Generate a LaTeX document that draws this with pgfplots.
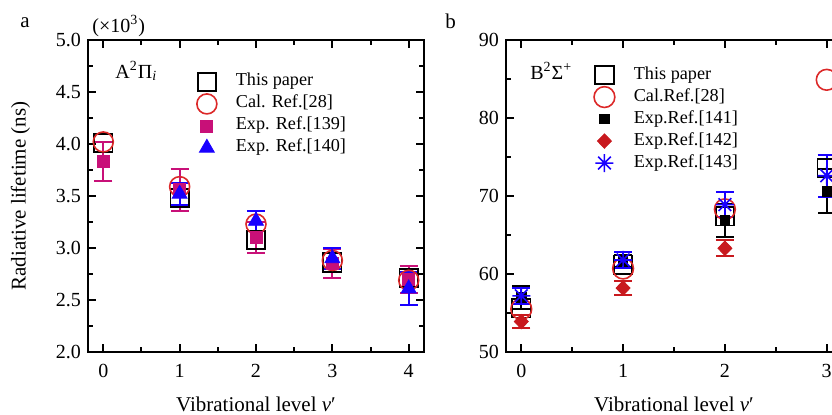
\documentclass[border=0pt]{standalone}
\usepackage{pgfplots}
\pgfplotsset{compat=1.18}
\usepackage{fontspec}
\setmainfont{Liberation Serif}

\definecolor{exppink}{RGB}{200,16,120}
\definecolor{calred}{RGB}{220,40,40}
\definecolor{expblue}{RGB}{25,0,255}
\definecolor{expred}{RGB}{200,25,30}

% eight-armed asterisk, as in the original
\pgfdeclareplotmark{ast8}{%
  \pgfpathmoveto{\pgfqpoint{0pt}{\pgfplotmarksize}}\pgfpathlineto{\pgfqpoint{0pt}{-\pgfplotmarksize}}%
  \pgfpathmoveto{\pgfqpoint{\pgfplotmarksize}{0pt}}\pgfpathlineto{\pgfqpoint{-\pgfplotmarksize}{0pt}}%
  \pgfpathmoveto{\pgfqpoint{0.707\pgfplotmarksize}{0.707\pgfplotmarksize}}\pgfpathlineto{\pgfqpoint{-0.707\pgfplotmarksize}{-0.707\pgfplotmarksize}}%
  \pgfpathmoveto{\pgfqpoint{-0.707\pgfplotmarksize}{0.707\pgfplotmarksize}}\pgfpathlineto{\pgfqpoint{0.707\pgfplotmarksize}{-0.707\pgfplotmarksize}}%
  \pgfusepathqstroke}

\pgfplotsset{
  lifetime/.style={
    scale only axis, width=168pt, height=156pt,
    axis line style={line width=1pt},
    tick align=inside, tick style={line width=1pt, black},
    major tick length=4pt, minor tick length=2.5pt,
    minor x tick num=1, minor y tick num=1,
    tick label style={font=\fontsize{10}{12}\selectfont},
    xticklabel style={yshift=-2.5pt},
    label style={font=\fontsize{10.5}{12.5}\selectfont},
    xlabel shift=3pt, ylabel shift=6pt,
    /pgf/number format/assume math mode=true,
    xlabel={Vibrational level \textit{v}′},
    legend style={draw=none, fill=none, font=\fontsize{9.1}{10.5}\selectfont,
      anchor=north west, row sep=0pt,
      nodes={inner sep=1pt, text height=6.5pt, text depth=2.5pt},
      /tikz/every odd column/.append style={column sep=8.5pt}},
    legend cell align=left,
  },
  errs/.style={error bars/.cd, y dir=both, y explicit,
    error bar style={line width=1pt, #1},
    error mark options={rotate=90, mark size=4.5pt, line width=1pt, #1}},
}

\begin{document}
\begin{tikzpicture}[x=1pt,y=1pt]

% ---- panel a: A2Pi_i ----
\begin{axis}[lifetime, at={(44pt,31pt)}, anchor=south west,
    xmin=-0.2, xmax=4.2, ymin=2, ymax=5,
    xtick={0,1,2,3,4}, ytick={2,2.5,...,5},
    yticklabel style={/pgf/number format/.cd, fixed, fixed zerofill, precision=1},
    ylabel={Radiative lifetime (ns)},
    legend style={at={(rel axis cs:0.305,0.915)}}]

% This paper
\addplot[only marks, mark=square, mark size=4.6pt, black, line width=0.9pt] coordinates {
(0,4.01) (1,3.48) (2,3.08) (3,2.86) (4,2.71)};
\addlegendentry{This paper}

% Cal. Ref.[28]
\addplot[only marks, mark=o, mark size=5pt, calred, line width=0.8pt] coordinates {
(0,4.02) (1,3.59) (2,3.23) (3,2.88) (4,2.69)};
\addlegendentry{Cal. Ref.[28]}

% Exp. Ref.[139]
\addplot[only marks, mark=square*, mark size=3pt, exppink, errs=exppink] coordinates {
(0,3.83) +- (0,0.19)
(1,3.56) +- (0,0.20)
(2,3.10) +- (0,0.15)
(3,2.85) +- (0,0.14)
(4,2.70) +- (0,0.13)};
\addlegendentry{Exp. Ref.[139]}

% Exp. Ref.[140]
\addplot[only marks, mark=triangle*, mark size=4.3pt, expblue, errs=expblue] coordinates {
(1,3.52) +- (0,0.105)
(2,3.26) +- (0,0.10)
(3,2.90) +- (0,0.10)
(4,2.61) +- (0,0.155)};
\addlegendentry{Exp. Ref.[140]}
\end{axis}

% ---- panel b: B2Sigma+ ----
\begin{axis}[lifetime, at={(253pt,31pt)}, anchor=south west,
    xmin=-0.15, xmax=3.15, ymin=50, ymax=90,
    xtick={0,1,2,3}, ytick={50,60,...,90},
    legend style={at={(rel axis cs:0.243,0.937)}}]

% This paper
\addplot[only marks, mark=square, mark size=4.6pt, black, line width=0.9pt] coordinates {
(0,55.6) (1,61.2) (2,67.4) (3,73.6)};
\addlegendentry{This paper}

% Cal.Ref.[28]
\addplot[only marks, mark=o, mark size=5.2pt, calred, line width=0.8pt] coordinates {
(0,55.5) (1,60.7) (2,68.3) (3,84.9)};
\addlegendentry{Cal.Ref.[28]}

% Exp.Ref.[141]
\addplot[only marks, mark=square*, mark size=2.4pt, black, errs=black] coordinates {
(0,57.0) +- (0,1.5)
(1,61.7) +- (0,0.8)
(2,66.9) +- (0,2.1)
(3,70.6) +- (0,2.8)};
\addlegendentry{Exp.Ref.[141]}

% Exp.Ref.[142]
\addplot[only marks, mark=diamond*, mark size=3.6pt, mark options={xscale=1.3}, expred, errs=expred] coordinates {
(0,53.9) +- (0,0.8)
(1,58.2) +- (0,0.85)
(2,63.3) +- (0,1.05)};
\addlegendentry{Exp.Ref.[142]}

% Exp.Ref.[143]
\addplot[only marks, mark=ast8, mark size=4.5pt, expblue, line width=0.8pt, errs=expblue] coordinates {
(0,57.2) +- (0,1.0)
(1,61.8) +- (0,1.0)
(2,68.9) +- (0,1.6)
(3,72.6) +- (0,2.7)};
\addlegendentry{Exp.Ref.[143]}
\end{axis}

% panel letters and annotations
\node[anchor=base west, inner sep=0pt, font=\fontsize{10.5}{12}\selectfont] at (10pt,193.5pt) {a};
\node[anchor=base west, inner sep=0pt, font=\fontsize{10}{12}\selectfont] at (46pt,191pt) {(×10\textsuperscript{3})};
\node[anchor=base west, inner sep=0pt, font=\fontsize{10}{12}\selectfont] at (57.5pt,168pt) {A\textsuperscript{2}Π\textsubscript{\itshape i}};
\node[anchor=base west, inner sep=0pt, font=\fontsize{10.5}{12}\selectfont] at (222.5pt,193pt) {b};
\node[anchor=base west, inner sep=0pt, font=\fontsize{10}{12}\selectfont] at (265pt,167.5pt) {B\textsuperscript{2}Σ\textsuperscript{+}};

\pgfresetboundingbox
\path[use as bounding box] (0pt,0pt) rectangle (416pt,207pt);
\end{tikzpicture}
\end{document}
